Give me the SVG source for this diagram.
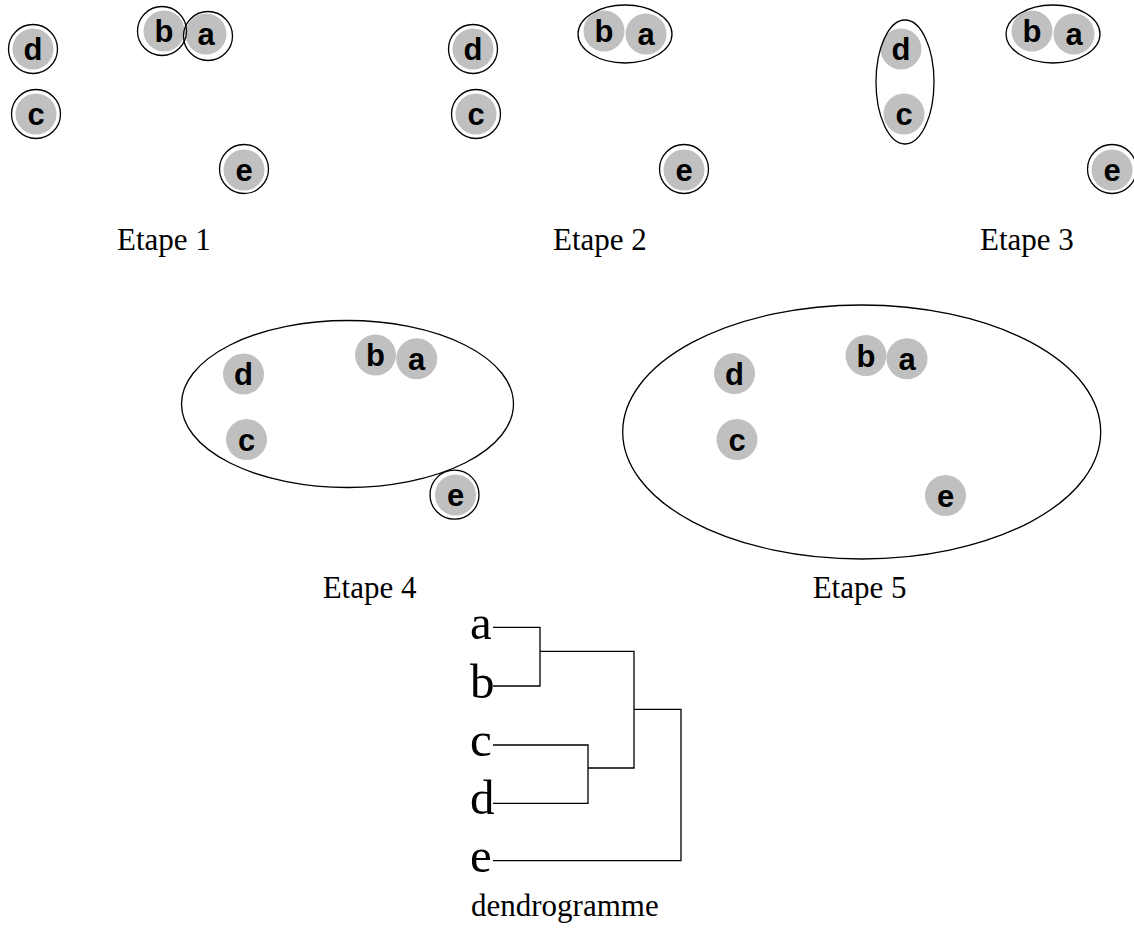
<svg xmlns="http://www.w3.org/2000/svg" width="1134" height="941" viewBox="0 0 1134 941">
<style>
.g{fill:#c0c0c0;stroke:none}
.r{fill:none;stroke:#000;stroke-width:1.3}
.l{font-family:"Liberation Sans",Arial,sans-serif;font-weight:bold;font-size:31px;text-anchor:middle;fill:#000}
.cap{font-family:"Liberation Serif","Times New Roman",serif;font-size:31px;fill:#000}
.dl{font-family:"Liberation Serif","Times New Roman",serif;font-size:49px;fill:#000}
.k{fill:none;stroke:#000;stroke-width:1.3}
</style>
<!-- Etape 1 -->
<g id="etape1">
<g id="e1-d"><circle class="g" cx="33" cy="49" r="20.5"/><text class="l" x="33" y="60">d</text><circle class="r" cx="33" cy="49" r="24.5"/></g>
<g id="e1-c"><circle class="g" cx="36" cy="114" r="20.5"/><text class="l" x="36" y="125">c</text><circle class="r" cx="36" cy="114" r="24.5"/></g>
<g id="e1-b"><circle class="g" cx="164" cy="31" r="20.5"/><text class="l" x="164" y="42">b</text></g>
<g id="e1-a"><circle class="g" cx="206" cy="34" r="20.5"/><text class="l" x="206" y="45">a</text></g>
<circle class="r" cx="162" cy="31" r="24.5"/><circle class="r" cx="208" cy="36" r="24.5"/>
<g id="e1-e"><circle class="g" cx="244" cy="170" r="20.5"/><text class="l" x="244" y="181">e</text><circle class="r" cx="244" cy="169" r="24.5"/></g>
<text class="cap" x="117" y="250">Etape 1</text>
</g>
<!-- Etape 2 -->
<g id="etape2">
<g id="e2-d"><circle class="g" cx="473" cy="49" r="20.5"/><text class="l" x="473" y="60">d</text><circle class="r" cx="473" cy="49" r="24.5"/></g>
<g id="e2-c"><circle class="g" cx="476" cy="114" r="20.5"/><text class="l" x="476" y="125">c</text><circle class="r" cx="476" cy="114" r="24.5"/></g>
<g id="e2-ba"><circle class="g" cx="604" cy="31" r="20.5"/><text class="l" x="604" y="42">b</text><circle class="g" cx="646" cy="34" r="20.5"/><text class="l" x="646" y="45">a</text><ellipse class="r" cx="625" cy="34" rx="47" ry="29"/></g>
<g id="e2-e"><circle class="g" cx="684" cy="170" r="20.5"/><text class="l" x="684" y="181">e</text><circle class="r" cx="684" cy="169" r="24.5"/></g>
<text class="cap" x="553" y="250">Etape 2</text>
</g>
<!-- Etape 3 -->
<g id="etape3">
<g id="e3-dc"><circle class="g" cx="901" cy="49" r="20.5"/><text class="l" x="901" y="60">d</text><circle class="g" cx="904" cy="114" r="20.5"/><text class="l" x="904" y="125">c</text><ellipse class="r" cx="905" cy="82" rx="29" ry="62"/></g>
<g id="e3-ba"><circle class="g" cx="1032" cy="31" r="20.5"/><text class="l" x="1032" y="42">b</text><circle class="g" cx="1074" cy="34" r="20.5"/><text class="l" x="1074" y="45">a</text><ellipse class="r" cx="1053" cy="34" rx="47" ry="29"/></g>
<g id="e3-e"><circle class="g" cx="1112" cy="170" r="20.5"/><text class="l" x="1112" y="181">e</text><circle class="r" cx="1112" cy="169" r="24.5"/></g>
<text class="cap" x="980" y="250">Etape 3</text>
</g>
<!-- Etape 4 -->
<g id="etape4">
<g id="e4-abcd"><circle class="g" cx="243.5" cy="374" r="20.5"/><text class="l" x="243.5" y="385">d</text><circle class="g" cx="246.5" cy="439.5" r="20.5"/><text class="l" x="246.5" y="450.5">c</text><circle class="g" cx="375.5" cy="355" r="20.5"/><text class="l" x="375.5" y="366">b</text><circle class="g" cx="416.7" cy="358.7" r="20.5"/><text class="l" x="416.7" y="369.7">a</text><ellipse class="r" cx="347.5" cy="404" rx="166" ry="83.5"/></g>
<g id="e4-e"><circle class="g" cx="455.5" cy="495" r="20.5"/><text class="l" x="455.5" y="506">e</text><circle class="r" cx="454.5" cy="494.7" r="24.5"/></g>
<text class="cap" x="322.7" y="598">Etape 4</text>
</g>
<!-- Etape 5 -->
<g id="etape5">
<g id="e5-all"><circle class="g" cx="734.5" cy="373.5" r="20.5"/><text class="l" x="734.5" y="384.5">d</text><circle class="g" cx="737" cy="439.5" r="20.5"/><text class="l" x="737" y="450.5">c</text><circle class="g" cx="866" cy="355.5" r="20.5"/><text class="l" x="866" y="366.5">b</text><circle class="g" cx="907" cy="358.7" r="20.5"/><text class="l" x="907" y="369.7">a</text><circle class="g" cx="945.5" cy="495.5" r="20.5"/><text class="l" x="945.5" y="506.5">e</text><ellipse class="r" cx="861.7" cy="432" rx="239" ry="127"/></g>
<text class="cap" x="812.7" y="598">Etape 5</text>
</g>
<!-- Dendrogram -->
<g id="dendro-labels">
<text class="dl" x="470" y="639">a</text>
<text class="dl" x="470" y="697.5">b</text>
<text class="dl" x="470" y="755.5">c</text>
<text class="dl" x="470" y="814">d</text>
<text class="dl" x="470" y="872">e</text>
</g>
<g id="connectors">
<polyline class="k" points="493,627.3 540,627.3 540,686 493,686"/>
<polyline class="k" points="540,651.3 634,651.3 634,768 588,768"/>
<polyline class="k" points="493,745 588,745 588,803.3 493,803.3"/>
<polyline class="k" points="634,709.3 681,709.3 681,860.7 493,860.7"/>
</g>
<text class="cap" x="471" y="916">dendrogramme</text>
</svg>
